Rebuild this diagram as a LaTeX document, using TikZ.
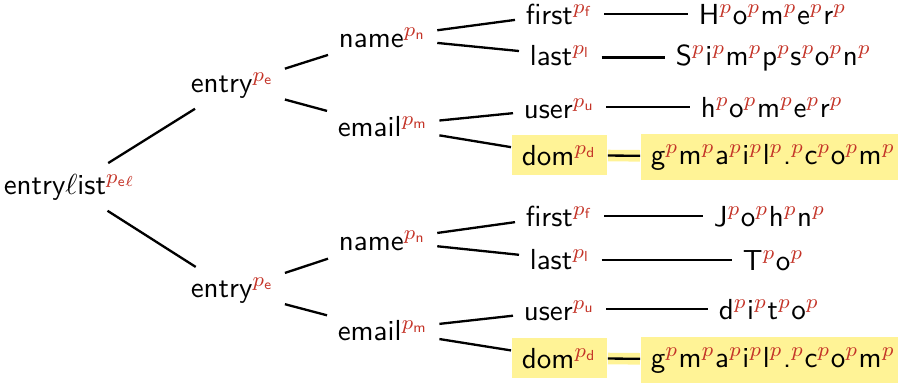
\documentclass[tikz,border=0pt]{standalone}
\usepackage{xcolor}
\definecolor{pred}{RGB}{196,52,40}
\definecolor{hl}{RGB}{255,243,150}
\newcommand{\lab}[2]{#1$^{\color{pred}p_{\mathsf{#2}}}$}
\newcommand{\pp}{$^{\color{pred}p}$}
\tikzset{
  lbl/.style={anchor=base west, font=\sffamily},
  hlbox/.style={lbl, fill=hl},
  hledge/.style={preaction={draw=hl, line width=4pt}}
}
\begin{document}
\begin{tikzpicture}[x=0.345pt, y=-0.345pt, line width=0.8pt]
\useasboundingbox (0,0) rectangle (898,382);
% root and entries
\node[lbl] (list) at (-7,194) {\lab{entry$\ell$ist}{e\ell}};
\node[lbl] (ent1) at (180,92) {\lab{entry}{e}};
\node[lbl] (ent2) at (180,297) {\lab{entry}{e}};
% first entry
\node[lbl] (name1) at (328,47) {\lab{name}{n}};
\node[lbl] (mail1) at (327,136) {\lab{email}{m}};
\node[lbl] (first1) at (515,24) {\lab{first}{f}};
\node[lbl] (last1) at (519,65) {\lab{last}{l}};
\node[lbl] (user1) at (513,118) {\lab{user}{u}};
\node[hlbox] (dom1) at (511,165) {\lab{dom}{d}};
\node[lbl] (Homer) at (688,24) {H\pp o\pp m\pp e\pp r\pp};
\node[lbl] (Simpson) at (665,65) {S\pp i\pp m\pp p\pp s\pp o\pp n\pp};
\node[lbl] (homer) at (690,117) {h\pp o\pp m\pp e\pp r\pp};
\node[hlbox] (gmail1) at (640,164) {g\pp m\pp a\pp i\pp l\pp .\pp c\pp o\pp m\pp};
% second entry
\node[lbl] (name2) at (328,250) {\lab{name}{n}};
\node[lbl] (mail2) at (327,340) {\lab{email}{m}};
\node[lbl] (first2) at (515,226) {\lab{first}{f}};
\node[lbl] (last2) at (519,269) {\lab{last}{l}};
\node[lbl] (user2) at (513,320) {\lab{user}{u}};
\node[hlbox] (dom2) at (511,368) {\lab{dom}{d}};
\node[lbl] (John) at (703,226) {J\pp o\pp h\pp n\pp};
\node[lbl] (To) at (732,270) {T\pp o\pp};
\node[lbl] (dito) at (708,319) {d\pp i\pp t\pp o\pp};
\node[hlbox] (gmail2) at (640,367) {g\pp m\pp a\pp i\pp l\pp .\pp c\pp o\pp m\pp};
% edges
\foreach \a/\b in {list/ent1, list/ent2, ent1/name1, ent1/mail1, ent2/name2, ent2/mail2,
  name1/first1, name1/last1, mail1/user1, mail1/dom1,
  name2/first2, name2/last2, mail2/user2, mail2/dom2}
  \draw (\a) -- (\b);
\foreach \a/\b in {first1/Homer, last1/Simpson, user1/homer, first2/John, last2/To, user2/dito}
  \draw (\b.west -| \a.east) -- (\b.west);
\draw[hledge] (dom1) -- (gmail1);
\draw[hledge] (dom2) -- (gmail2);
\end{tikzpicture}
\end{document}
